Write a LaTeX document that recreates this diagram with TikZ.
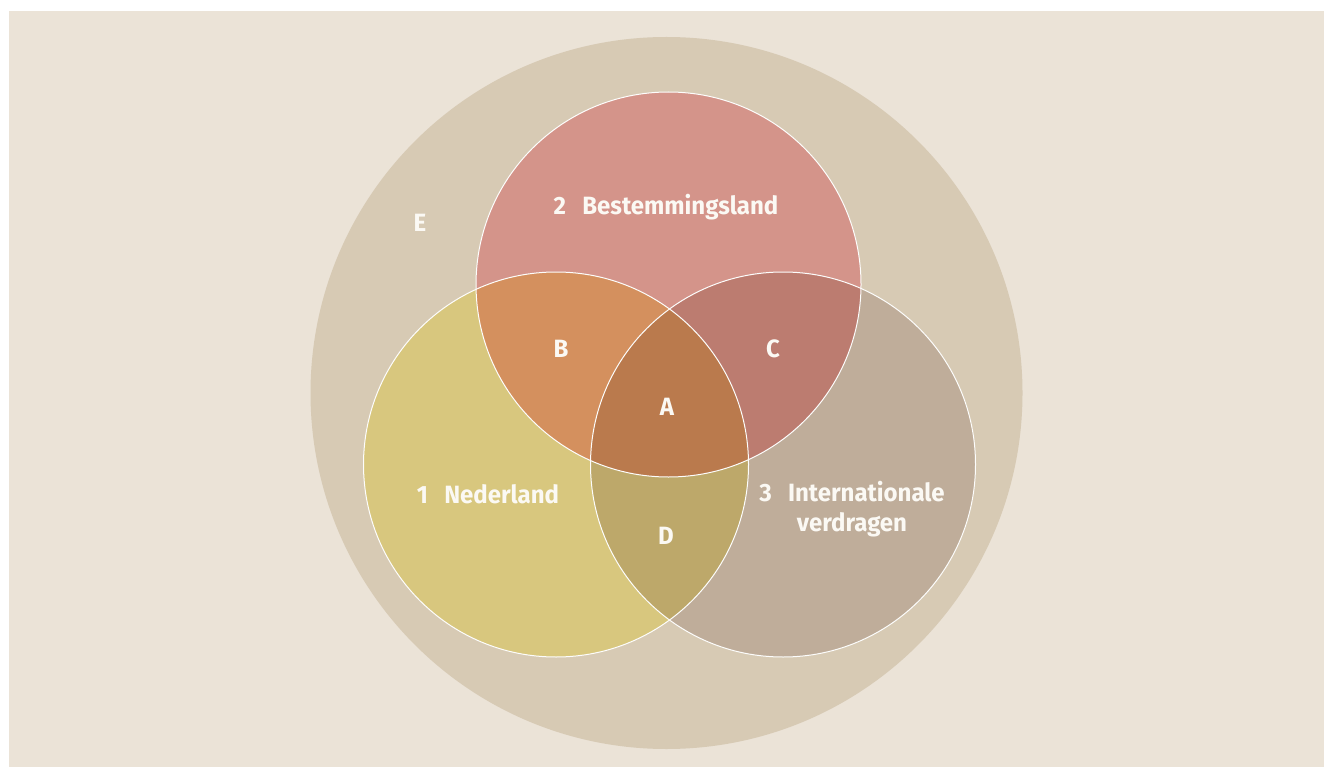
\documentclass[tikz,border=0pt]{standalone}
\usepackage{fontspec}
\setmainfont{Fira Sans}[UprightFont=* Bold, BoldFont=* Bold, FakeStretch=0.96]
\definecolor{pagebg}{HTML}{EBE3D7}
\definecolor{outerc}{HTML}{D7CAB4}
\definecolor{topc}{HTML}{D4948A}
\definecolor{leftc}{HTML}{D8C77E}
\definecolor{rightc}{HTML}{BFAD9A}
\definecolor{bc}{HTML}{D4905E}
\definecolor{cc}{HTML}{BC7C70}
\definecolor{ac}{HTML}{BA7A4D}
\definecolor{dc}{HTML}{BDA86A}
\definecolor{txt}{HTML}{FBF9F4}
\begin{document}
\begin{tikzpicture}[x=1pt,y=-1pt,
  lbl/.style={text=txt,font=\fontsize{25}{30}\selectfont,inner sep=0pt},
  rim/.style={draw=white!92!pagebg,line width=1pt}]
\useasboundingbox (0,0) rectangle (1324,767);
\fill[white] (0,0) rectangle (1324,767);
\fill[pagebg] (9,11) rectangle (1324,767);
\fill[outerc] (666.5,393) circle[radius=356];
\def\ctop{(668.5,284.5) circle[radius=192.5]}
\def\cleft{(556,464.5) circle[radius=192.5]}
\def\cright{(783,464.5) circle[radius=192.5]}
\fill[topc] \ctop;
\fill[leftc] \cleft;
\fill[rightc] \cright;
\begin{scope}\clip \ctop; \fill[bc] \cleft; \end{scope}
\begin{scope}\clip \ctop; \fill[cc] \cright; \end{scope}
\begin{scope}\clip \cleft; \fill[dc] \cright; \end{scope}
\begin{scope}\clip \ctop; \clip \cleft; \fill[ac] \cright; \end{scope}
\draw[rim] \ctop;
\draw[rim] \cleft;
\draw[rim] \cright;
\node[lbl] (two) at (666,207) {2\hspace{0.65em}Bestemmingsland};
\node[lbl] (e) at (420,223) {E};
\node[lbl] (b) at (561,349) {B};
\node[lbl] (c) at (773,349) {C};
\node[lbl] (a) at (667,407) {A};
\node[lbl] (one) at (488,494) {1\hspace{0.65em}Nederland};
\node[lbl,align=center] (three) at (852,509) {3\hspace{0.65em}Internationale\\verdragen};
\node[lbl] (d) at (666,536) {D};
\end{tikzpicture}
\end{document}
